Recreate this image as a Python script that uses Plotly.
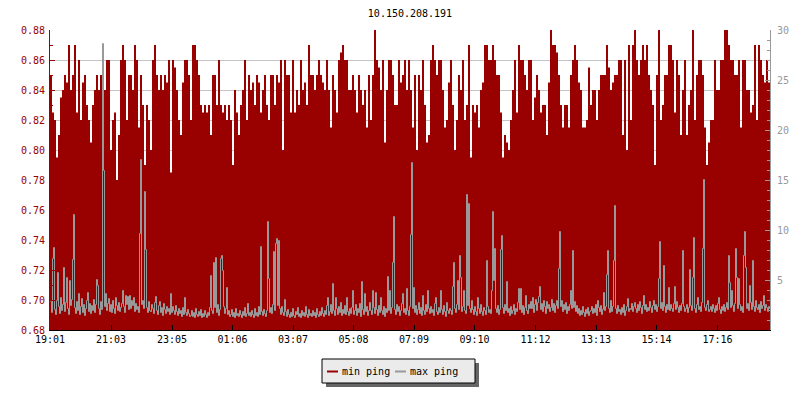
import plotly.graph_objects as go
import pandas as pd

# ---------------- data ----------------
title_text = "10.150.208.191"
start_time = "2024-05-13 19:01"
min_sample_minutes = 4
max_sample_minutes = 2
tick_labels = ["19:01", "21:03", "23:05", "01:06", "03:07", "05:08",
               "07:09", "09:10", "11:12", "13:13", "15:14", "17:16"]

# min ping, microseconds (left axis, ms after conversion), one value per 4 minutes
min_ping_us = [
    850, 825, 820, 795, 810, 835, 840, 850, 845, 870,
    840, 850, 870, 825, 860, 820, 845, 850, 830, 820,
    805, 830, 840, 850, 840, 850, 810, 840, 860, 860,
    800, 820, 825, 780, 810, 860, 870, 860, 820, 850,
    850, 840, 870, 860, 815, 850, 830, 790, 830, 820,
    800, 860, 870, 850, 840, 850, 840, 850, 845, 860,
    785, 860, 855, 840, 820, 810, 845, 860, 860, 850,
    820, 870, 870, 860, 850, 830, 825, 830, 825, 830,
    810, 850, 850, 830, 860, 830, 825, 830, 820, 830,
    820, 790, 840, 825, 810, 830, 840, 860, 820, 850,
    840, 845, 830, 850, 845, 825, 840, 850, 830, 820,
    850, 850, 830, 850, 845, 860, 800, 860, 850, 850,
    825, 860, 825, 840, 830, 860, 840, 845, 830, 870,
    850, 850, 840, 850, 860, 850, 845, 840, 860, 840,
    815, 850, 840, 825, 860, 865, 870, 860, 860, 840,
    840, 850, 840, 825, 850, 840, 830, 840, 815, 850,
    820, 850, 880, 860, 855, 840, 860, 805, 840, 860,
    860, 850, 830, 830, 860, 845, 850, 860, 840, 860,
    840, 815, 850, 800, 850, 840, 860, 830, 805, 810,
    860, 870, 860, 850, 860, 860, 840, 815, 820, 845,
    860, 830, 800, 820, 850, 840, 860, 820, 830, 870,
    795, 830, 825, 830, 815, 840, 845, 870, 870, 860,
    860, 870, 860, 850, 850, 825, 795, 810, 805, 800,
    820, 840, 860, 825, 870, 860, 860, 850, 840, 860,
    860, 820, 835, 850, 840, 825, 830, 830, 810, 845,
    880, 870, 870, 865, 850, 830, 815, 830, 830, 815,
    850, 860, 870, 860, 845, 840, 815, 815, 820, 855,
    830, 840, 840, 820, 840, 850, 850, 850, 870, 855,
    840, 845, 850, 850, 860, 860, 810, 860, 800, 870,
    820, 870, 880, 860, 850, 860, 870, 860, 870, 850,
    840, 830, 790, 850, 880, 820, 830, 850, 850, 870,
    870, 860, 825, 860, 850, 810, 840, 860, 810, 830,
    840, 880, 820, 850, 860, 860, 850, 815, 790, 805,
    820, 820, 860, 840, 840, 860, 860, 880, 880, 870,
    860, 860, 850, 850, 860, 815, 860, 860, 840, 840,
    825, 830, 870, 820, 870, 860, 850, 845, 860, 845,
]

# max ping, milliseconds (right axis), one value per 2 minutes
max_ping_ms = [
    2.9, 1.8, 7.2, 8.3, 2.1, 1.6, 3.0, 5.8, 2.4, 1.7, 3.3, 2.0, 2.6, 6.3, 1.9, 2.8, 5.3, 2.2, 1.6, 5.0,
    2.5, 3.1, 7.1, 11.6, 2.3, 1.7, 2.9, 2.0, 3.7, 1.6, 2.4, 3.2, 1.8, 2.6, 1.5, 2.2, 3.0, 3.8, 1.9, 2.7,
    1.7, 2.5, 2.0, 3.1, 1.8, 2.6, 5.1, 4.5, 2.2, 1.6, 2.9, 2.1, 28.7, 16.0, 2.4, 3.7, 2.0, 2.7, 3.2, 1.9,
    2.6, 1.8, 3.0, 2.2, 1.7, 3.3, 2.5, 2.0, 2.8, 1.9, 2.3, 2.7, 4.0, 2.4, 1.8, 3.5, 2.6, 3.4, 2.1, 3.5,
    2.2, 3.0, 2.5, 3.3, 1.9, 2.7, 2.1, 2.4, 1.8, 9.7, 17.1, 2.6, 3.0, 2.2, 13.9, 8.1, 2.3, 1.8, 2.9, 2.0,
    1.9, 2.6, 2.2, 1.7, 2.8, 3.4, 2.0, 1.6, 2.5, 2.9, 1.8, 2.3, 1.5, 2.7, 2.1, 1.7, 2.4, 1.9, 2.2, 1.6,
    3.7, 1.8, 2.4, 2.0, 1.6, 2.5, 1.9, 1.5, 2.2, 1.7, 2.0, 1.4, 2.3, 1.6, 3.3, 1.8, 1.5, 2.1, 1.7, 1.4,
    1.5, 2.0, 1.4, 1.8, 1.3, 2.2, 1.6, 1.4, 1.9, 1.5, 2.1, 1.3, 1.7, 1.4, 2.0, 1.6, 1.3, 1.8, 1.5, 2.3,
    5.5, 2.0, 1.7, 6.8, 2.3, 7.3, 1.8, 2.6, 1.5, 2.1, 7.2, 7.5, 6.0, 2.4, 1.7, 2.2, 4.3, 1.6, 2.0, 1.4,
    1.6, 2.1, 1.4, 1.8, 1.3, 2.2, 1.5, 1.7, 1.4, 2.0, 1.6, 1.3, 1.9, 1.5, 2.3, 1.4, 1.7, 2.7, 1.5, 1.8,
    1.4, 2.0, 1.6, 1.3, 2.2, 1.5, 1.8, 1.4, 2.4, 1.6, 8.4, 1.9, 1.5, 2.1, 1.7, 1.4, 2.0, 10.9, 5.2, 1.8,
    2.3, 1.7, 2.6, 7.9, 2.0, 8.7, 9.2, 2.5, 9.0, 2.2, 1.6, 2.4, 1.8, 1.5, 3.1, 1.9, 1.4, 2.1, 1.6, 1.3,
    1.8, 1.4, 2.2, 1.5, 1.3, 1.9, 1.6, 2.3, 1.4, 1.7, 1.3, 2.0, 1.5, 1.8, 1.4, 2.4, 1.6, 1.3, 2.1, 1.5,
    1.7, 1.4, 2.0, 1.5, 1.8, 1.3, 2.2, 1.6, 1.4, 1.9, 1.5, 2.3, 1.7, 1.4, 2.0, 1.6, 2.5, 3.3, 1.5, 1.9,
    2.6, 1.7, 4.7, 2.0, 1.5, 3.3, 2.2, 1.6, 2.4, 1.8, 2.8, 1.5, 2.1, 1.7, 2.5, 1.6, 3.3, 1.9, 1.5, 2.2,
    1.7, 2.3, 4.0, 1.6, 2.0, 2.6, 1.5, 2.2, 1.8, 2.7, 1.4, 4.9, 2.1, 1.6, 3.7, 1.9, 2.4, 1.5, 2.0, 2.8,
    2.0, 1.6, 4.0, 2.3, 1.7, 3.8, 2.1, 1.5, 2.5, 1.8, 3.3, 2.0, 1.6, 2.4, 1.4, 2.2, 1.8, 5.4, 2.0, 4.0,
    1.7, 2.3, 6.8, 11.4, 2.1, 1.6, 2.6, 1.9, 2.4, 1.5, 2.0, 2.7, 3.7, 1.8, 2.2, 1.6, 4.2, 2.0, 1.5, 2.4,
    9.6, 16.8, 2.2, 4.3, 1.8, 2.5, 1.6, 2.1, 2.8, 1.7, 2.3, 1.5, 3.5, 2.0, 1.6, 2.6, 1.9, 4.0, 2.2, 1.7,
    2.4, 1.8, 2.1, 1.5, 2.7, 3.3, 1.9, 1.6, 2.3, 1.8, 4.0, 2.1, 1.6, 2.5, 1.9, 1.4, 2.8, 2.0, 1.7, 2.2,
    2.0, 1.6, 4.4, 6.8, 2.2, 1.8, 2.6, 5.0, 2.1, 7.5, 5.3, 1.9, 2.4, 4.0, 2.0, 1.7, 13.6, 2.5, 12.7, 2.2,
    1.8, 3.0, 2.1, 1.6, 2.4, 1.9, 1.5, 3.3, 2.2, 1.7, 2.6, 1.9, 1.5, 2.3, 2.0, 1.6, 7.0, 2.4, 1.8, 2.1,
    1.7, 4.0, 11.9, 5.0, 8.2, 2.2, 1.8, 2.5, 1.6, 2.1, 8.1, 9.5, 2.3, 1.7, 2.6, 2.0, 4.9, 1.8, 2.2, 1.5,
    2.4, 1.7, 2.0, 2.6, 1.6, 2.2, 1.9, 2.8, 4.2, 2.1, 4.2, 1.8, 2.5, 1.6, 2.3, 3.5, 2.0, 1.7, 2.6, 2.2,
    2.9, 2.2, 3.3, 1.8, 2.6, 3.1, 2.0, 2.8, 3.4, 4.4, 2.1, 2.7, 1.9, 3.0, 2.4, 1.7, 2.9, 2.2, 2.6, 1.9,
    2.3, 3.1, 2.0, 2.7, 1.8, 2.5, 3.0, 2.2, 6.2, 9.9, 2.4, 3.0, 1.9, 2.6, 2.1, 2.8, 1.7, 2.4, 2.0, 2.6,
    4.0, 2.2, 8.0, 2.3, 2.9, 1.9, 2.5, 1.7, 2.2, 1.5, 2.0, 1.6, 2.4, 1.8, 1.4, 2.1, 1.7, 2.3, 1.5, 1.9,
    2.0, 2.4, 1.7, 2.2, 1.8, 2.6, 1.5, 3.0, 2.3, 1.9, 2.5, 1.6, 2.1, 3.8, 2.0, 2.4, 5.6, 8.0, 2.2, 1.8,
    3.0, 1.9, 2.4, 7.0, 12.5, 2.2, 1.7, 2.5, 1.9, 2.1, 1.6, 2.3, 1.8, 2.6, 1.5, 2.0, 2.4, 3.2, 1.9, 2.2,
    2.1, 2.7, 1.9, 2.4, 2.8, 2.2, 1.8, 2.6, 2.0, 2.9, 2.3, 1.7, 2.5, 3.5, 2.1, 2.6, 1.9, 2.3, 2.0, 2.9,
    2.3, 1.8, 2.5, 3.0, 2.1, 2.6, 1.9, 2.4, 5.2, 8.9, 2.2, 2.8, 2.0, 6.5, 2.4, 1.8, 2.6, 2.1, 4.3, 2.0,
    2.6, 2.2, 1.9, 2.7, 4.4, 2.1, 2.9, 2.3, 1.8, 2.5, 2.0, 2.7, 8.0, 2.4, 1.9, 2.2, 2.6, 1.8, 2.3, 6.1,
    2.5, 2.0, 5.3, 9.3, 2.2, 1.8, 2.6, 3.3, 2.1, 2.4, 1.9, 2.8, 8.2, 15.1, 2.3, 2.0, 2.6, 3.0, 1.9, 2.1,
    2.4, 1.9, 2.6, 2.2, 1.8, 2.5, 2.0, 2.7, 3.3, 2.1, 1.7, 2.4, 2.0, 2.6, 1.9, 2.3, 2.8, 2.1, 7.5, 4.8,
    2.3, 4.0, 2.5, 1.9, 2.7, 8.2, 5.3, 2.2, 5.2, 2.6, 2.0, 2.4, 1.8, 7.5, 9.9, 6.3, 2.2, 2.7, 2.0, 4.5,
    2.8, 2.1, 7.0, 2.4, 1.9, 3.0, 2.3, 2.1, 2.6, 1.8, 2.9, 2.2, 2.5, 3.5, 2.0, 2.6, 2.3, 1.9, 2.4, 2.2,
]

# ---------------- derived ----------------
n_min = len(min_ping_us)
n_max = len(max_ping_ms)
times_min = pd.date_range(start=start_time, periods=n_min + 1, freq=f"{min_sample_minutes}min")
times_max = pd.date_range(start=start_time, periods=n_max + 1, freq=f"{max_sample_minutes}min")
# max-ping steps drawn on pixel centres (half a pixel = 1 minute) for a crisp 1px line
times_line = times_max + pd.Timedelta(minutes=1)
min_ping_ms = [v / 1000.0 for v in min_ping_us]
y_min = min_ping_ms + [min_ping_ms[-1]]
y_max = max_ping_ms + [max_ping_ms[-1]]

t0 = pd.Timestamp(start_time)
tickvals = []
day = t0.normalize()
prev = None
for lab in tick_labels:
    h, m = map(int, lab.split(":"))
    t = day + pd.Timedelta(hours=h, minutes=m)
    if prev is not None and t < prev:
        day = day + pd.Timedelta(days=1)
        t = t + pd.Timedelta(days=1)
    tickvals.append(t)
    prev = t

RED = "#990000"
GRAY = "#999999"
FONT = "DejaVu Sans Mono"

fig = go.Figure()
fig.add_trace(go.Scatter(
    x=times_min, y=y_min, mode="lines", line=dict(shape="hv", width=0, color=RED),
    fill="tozeroy", fillcolor=RED, name="min ping", showlegend=False,
    hoverinfo="skip"))
fig.add_trace(go.Scatter(
    x=times_line, y=y_max, mode="lines", line=dict(shape="hv", width=1, color=GRAY),
    name="max ping", yaxis="y2", showlegend=False, hoverinfo="skip"))

# page has an 8px body margin: plot area lands at x 50-770, y 30-330 of the window
fig.update_layout(
    width=800, height=400,
    margin=dict(l=42, r=38, t=22, b=78),
    paper_bgcolor="white", plot_bgcolor="white",
    font=dict(family=FONT, size=10, color="black"),
    title=dict(text=title_text, x=0.5, xref="paper", y=1 - 5 / 400,
               yref="container", xanchor="center", yanchor="middle",
               font=dict(family=FONT, size=10, color="black")),
    xaxis=dict(range=[times_min[0], times_min[-1]], tickvals=tickvals, ticktext=tick_labels,
               ticks="inside", ticklen=5, tickcolor="black", showline=True,
               linecolor="black", linewidth=1, showgrid=False, zeroline=False,
               tickfont=dict(color="black", size=10, family=FONT)),
    yaxis=dict(range=[0.68, 0.88], dtick=0.02, tick0=0.68, tickformat=".2f",
               ticks="inside", ticklen=5, tickcolor=RED, showline=True,
               linecolor=RED, linewidth=1, showgrid=True, gridcolor="#c4c4c4",
               gridwidth=1, zeroline=False, ticklabelstandoff=2,
               minor=dict(dtick=0.01, tick0=0.68, ticks="inside", ticklen=3,
                          tickcolor=RED, showgrid=False),
               tickfont=dict(color=RED, size=10, family=FONT)),
    yaxis2=dict(range=[0.05, 30.05], dtick=5, tick0=0, overlaying="y", side="right",
                ticks="inside", ticklen=5, tickcolor=GRAY, showline=True,
                linecolor=GRAY, linewidth=1, showgrid=False, zeroline=False,
                ticklabelstandoff=4,
                minor=dict(dtick=1, tick0=0, ticks="inside", ticklen=3,
                           tickcolor=GRAY, showgrid=False),
                tickfont=dict(color=GRAY, size=10, family=FONT)),
)

# ---- legend drawn as a box with drop shadow (window pixel coords -> paper) ----
L, T, W, H = 50.0, 30.0, 720.0, 300.0
def px(x):
    return (x - L) / W
def py(y):
    return (T + H - y) / H

box = (322, 359, 475, 383)
sh = 4
fig.add_shape(type="rect", xref="paper", yref="paper",
              x0=px(box[0] + sh), x1=px(box[2] + sh), y0=py(box[3] + sh), y1=py(box[1] + sh),
              fillcolor="#666666", line=dict(width=0), layer="above")
fig.add_shape(type="rect", xref="paper", yref="paper",
              x0=px(box[0]), x1=px(box[2]), y0=py(box[3]), y1=py(box[1]),
              fillcolor="#ebebeb", line=dict(color="black", width=1), layer="above")
legend_items = [("min ping", RED, 327), ("max ping", GRAY, 395)]
ly = 371.5
for name, col, x0 in legend_items:
    fig.add_shape(type="line", xref="paper", yref="paper",
                  x0=px(x0), x1=px(x0 + 11), y0=py(ly), y1=py(ly),
                  line=dict(color=col, width=2), layer="above")
    fig.add_annotation(x=px(x0 + 13), y=py(ly), xref="paper", yref="paper",
                       text=name, showarrow=False, xanchor="left", yanchor="middle",
                       font=dict(family=FONT, size=10, color="black"))

fig.write_html("out.html")
